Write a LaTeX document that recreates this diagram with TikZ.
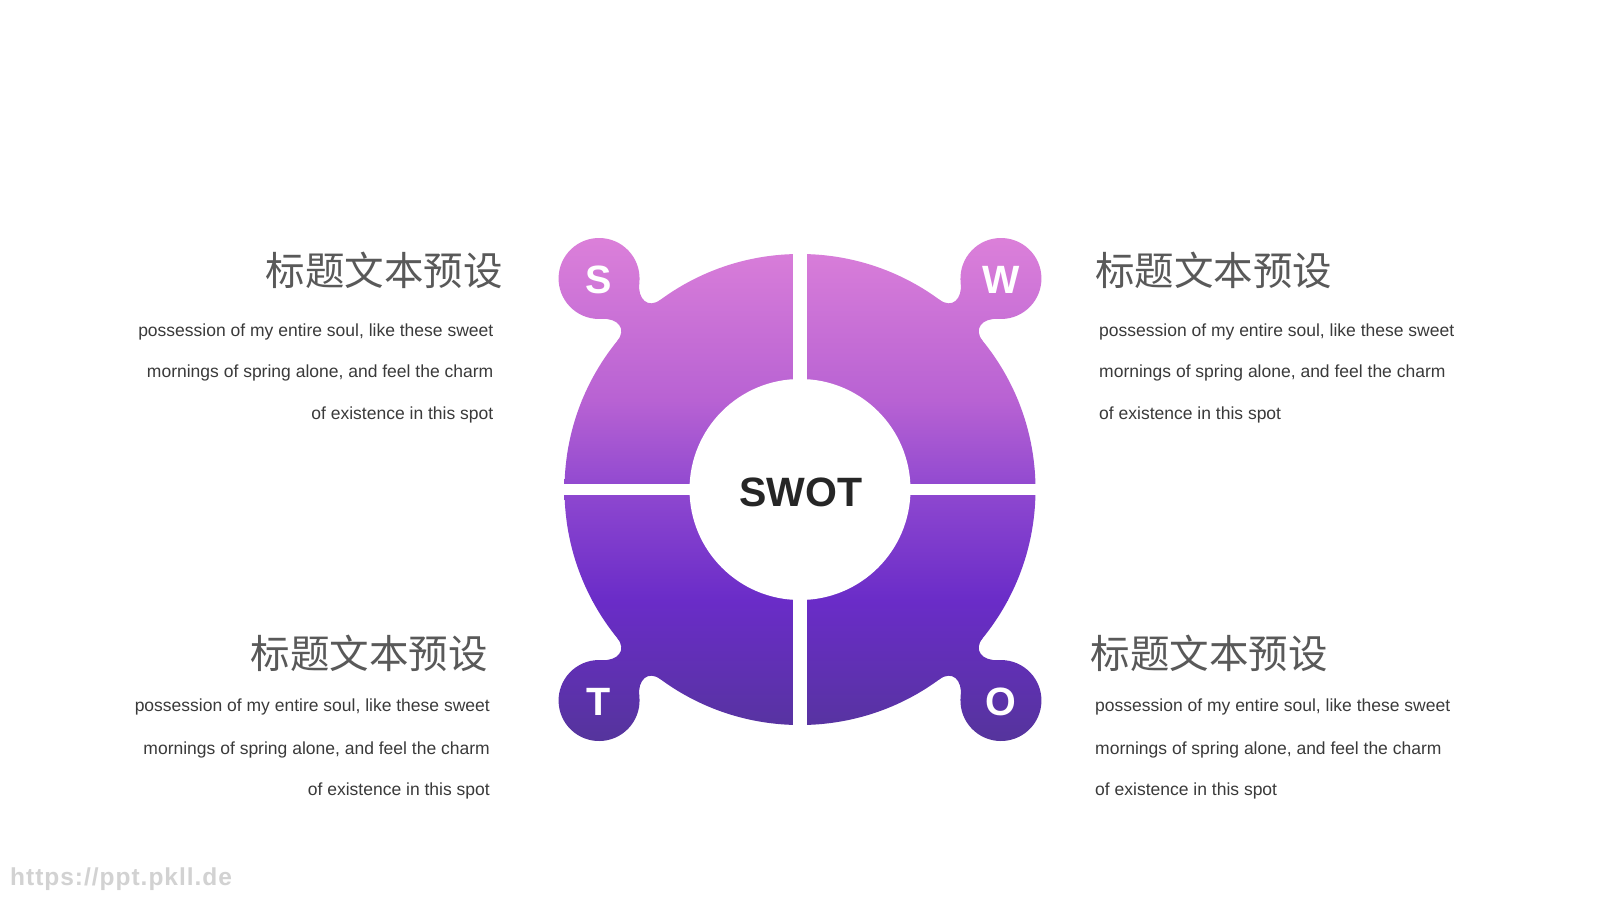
\documentclass[tikz,border=0pt]{standalone}
\usepackage{fontspec}
\setmainfont{Liberation Sans}
\newfontfamily\cjk{Noto Sans CJK SC}
\newfontfamily\wmfont[LetterSpace=4]{Liberation Sans}
\definecolor{gA}{HTML}{DE82DA}
\definecolor{gB}{HTML}{B862D3}
\definecolor{gC}{HTML}{8F48D0}
\definecolor{gD}{HTML}{6A2CC8}
\definecolor{gE}{HTML}{533598}
\definecolor{titlegray}{HTML}{595959}
\definecolor{bodygray}{HTML}{3A3A3A}
\definecolor{swotc}{HTML}{262626}
\definecolor{wmgray}{HTML}{D2D2D2}
\newcommand\gradbands{%
  \begin{scope}[reset cm]
    \shade[top color=gA, bottom color=gB] (0,225) rectangle (1600,400.6);
    \shade[top color=gB, bottom color=gC] (0,400) rectangle (1600,490.6);
    \shade[top color=gC, bottom color=gD] (0,490) rectangle (1600,600.6);
    \shade[top color=gD, bottom color=gE] (0,600) rectangle (1600,755);
  \end{scope}}
\begin{document}
\begin{tikzpicture}[x=1pt,y=-1pt,
  ttl/.style={font=\cjk\fontsize{39.5}{40}\selectfont, text=titlegray, inner sep=0pt},
  body/.style={font=\fontsize{17.5}{18}\selectfont, text=bodygray, inner sep=0pt},
  letter/.style={font=\bfseries\fontsize{39.5}{40}\selectfont, text=white, inner sep=0pt}]
\useasboundingbox (0,0) rectangle (1600,900);
\fill[white] (0,0) rectangle (1600,900);
% ring disk
\begin{scope}
  \clip (800,489.5) circle[radius=235.5];
  \gradbands
\end{scope}
% small circles and necks
\foreach \ang in {133.6,46.4,226.4,313.6}{
  \begin{scope}[shift={(800,489.5)}, rotate=\ang]
    \begin{scope}
      \clip (291.4,0) circle[radius=40.5];
      \gradbands
    \end{scope}
    \begin{scope}
      \clip (233.6,30) .. controls (235.6,14.1) and (250.1,13.8) .. (260.4,26)
            -- (260.4,-26) .. controls (250.1,-13.8) and (235.6,-14.1) .. (233.6,-30) -- cycle;
      \gradbands
    \end{scope}
  \end{scope}
}
% white cut-outs
\fill[white] (800,489.5) circle[radius=110.5];
\fill[white] (792.6,240) rectangle (806.6,740);
\fill[white] (555,484) rectangle (1045,495);
% center label
\node[font=\bfseries\fontsize{41}{42}\selectfont, text=swotc, inner sep=0pt] (swot) at (800.8,492.5) {SWOT};
% letters
\node[letter] (ls) at (599,279.5) {S};
\node[letter] (lw) at (1001,279.5) {W};
\node[letter] (lt) at (599,702) {T};
\node[letter] (lo) at (1001,702) {O};
% top-left text
\node[ttl, anchor=east] (t1) at (503,270.5) {标题文本预设};
\node[body, anchor=base east] (b1a) at (493.5,336) {possession of my entire soul, like these sweet};
\node[body, anchor=base east] (b1b) at (493.5,377.7) {mornings of spring alone, and feel the charm};
\node[body, anchor=base east] (b1c) at (493.5,419.3) {of existence in this spot};
% top-right text
\node[ttl, anchor=west] (t2) at (1095,270.5) {标题文本预设};
\node[body, anchor=base west] (b2a) at (1099,336) {possession of my entire soul, like these sweet};
\node[body, anchor=base west] (b2b) at (1099,377.7) {mornings of spring alone, and feel the charm};
\node[body, anchor=base west] (b2c) at (1099,419.3) {of existence in this spot};
% bottom-left text
\node[ttl, anchor=east] (t3) at (488,653.3) {标题文本预设};
\node[body, anchor=base east] (b3a) at (490,711.7) {possession of my entire soul, like these sweet};
\node[body, anchor=base east] (b3b) at (490,754) {mornings of spring alone, and feel the charm};
\node[body, anchor=base east] (b3c) at (490,795.7) {of existence in this spot};
% bottom-right text
\node[ttl, anchor=west] (t4) at (1090.5,653.3) {标题文本预设};
\node[body, anchor=base west] (b4a) at (1095,711.7) {possession of my entire soul, like these sweet};
\node[body, anchor=base west] (b4b) at (1095,754) {mornings of spring alone, and feel the charm};
\node[body, anchor=base west] (b4c) at (1095,795.7) {of existence in this spot};
% watermark
\node[anchor=base west, font=\wmfont\bfseries\fontsize{24.5}{25}\selectfont, text=wmgray, inner sep=0pt] (wm) at (10,885) {https://ppt.pkll.de};
\end{tikzpicture}
\end{document}
